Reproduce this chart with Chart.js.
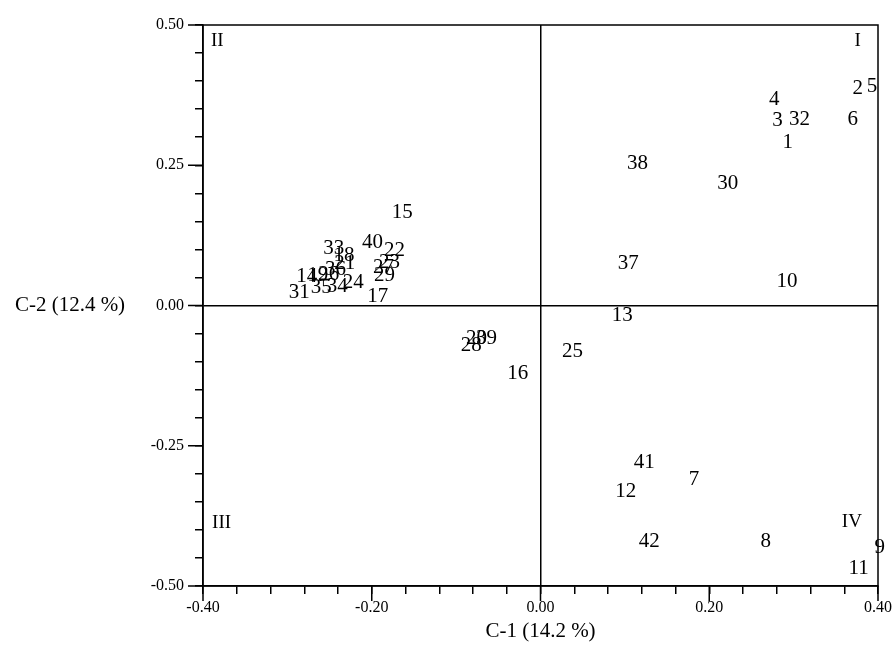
<!DOCTYPE html>
<html>
<head>
<meta charset="utf-8">
<script src="https://cdn.jsdelivr.net/npm/chart.js@4.4.1/dist/chart.umd.min.js"></script>
<style>
  html, body { margin: 0; padding: 0; background: #fff; }
  canvas { display: block; }
</style>
</head>
<body>
<canvas id="myChart" width="896" height="649"></canvas>
<script>
// labels of the accessions
var names = ['1','2','3','4','5','6','7','8','9','10',
             '11','12','13','14','15','16','17','18','19','20',
             '21','22','23','24','25','26','27','28','29','30',
             '31','32','33','34','35','36','37','38','39','40',
             '41','42'];
// C-1 scores
var c1 = [0.293, 0.376, 0.281, 0.277, 0.393, 0.370, 0.182, 0.267, 0.402, 0.292,
          0.377, 0.101, 0.097, -0.277, -0.164, -0.027, -0.193, -0.233, -0.264, -0.076,
          -0.232, -0.173, -0.179, -0.222, 0.038, -0.251, -0.186, -0.082, -0.185, 0.222,
          -0.286, 0.307, -0.245, -0.241, -0.260, -0.243, 0.104, 0.115, -0.064, -0.199,
          0.123, 0.129];
// C-2 scores
var c2 = [0.291, 0.386, 0.329, 0.368, 0.391, 0.332, -0.311, -0.420, -0.432, 0.043,
          -0.468, -0.332, -0.018, 0.052, 0.166, -0.121, 0.016, 0.089, 0.054, -0.059,
          0.075, 0.098, 0.077, 0.041, -0.082, 0.055, 0.068, -0.071, 0.054, 0.218,
          0.023, 0.332, 0.102, 0.034, 0.032, 0.064, 0.075, 0.254, -0.059, 0.113,
          -0.280, -0.420];

// quadrant names
var quadNames = ['I', 'II', 'III', 'IV'];
var quadX = [0.376, -0.383, -0.378, 0.369];
var quadY = [0.471, 0.471, -0.388, -0.386];

var serif = "'Liberation Serif', 'Times New Roman', serif";

var points = c1.map(function (v, i) { return { x: v, y: c2[i] }; });
var quadPoints = quadX.map(function (v, i) { return { x: v, y: quadY[i] }; });

function isMajor(v, step) {
  return Math.abs(Math.round(v * 100)) % step === 0;
}
function fmt(v) {
  var r = Math.round(v * 100) / 100;
  if (r === 0) r = 0;
  return r.toFixed(2);
}

// texts at the points, frame, long ticks, left title
var textPlugin = {
  id: 'textPlugin',
  afterDatasetsDraw: function (chart) {
    var ctx = chart.ctx;
    ctx.save();
    ctx.fillStyle = '#000';
    ctx.textAlign = 'center';
    ctx.textBaseline = 'middle';
    ctx.font = '21px ' + serif;
    chart.getDatasetMeta(0).data.forEach(function (el, i) {
      ctx.fillText(names[i], el.x, el.y);
    });
    ctx.font = '19px ' + serif;
    chart.getDatasetMeta(1).data.forEach(function (el, i) {
      ctx.fillText(quadNames[i], el.x, el.y);
    });
    ctx.restore();
  },
  afterDraw: function (chart) {
    var ctx = chart.ctx;
    var a = chart.chartArea;
    var xs = chart.scales.x, ys = chart.scales.y;
    ctx.save();
    ctx.strokeStyle = '#000';
    ctx.lineWidth = 1.5;
    ctx.strokeRect(a.left, a.top, a.right - a.left, a.bottom - a.top);
    ctx.beginPath();
    [-0.4, -0.2, 0, 0.2, 0.4].forEach(function (v) {
      var px = xs.getPixelForValue(v);
      ctx.moveTo(px, a.bottom);
      ctx.lineTo(px, a.bottom + 15);
    });
    [-0.5, -0.25, 0, 0.25, 0.5].forEach(function (v) {
      var py = ys.getPixelForValue(v);
      ctx.moveTo(a.left, py);
      ctx.lineTo(a.left - 15, py);
    });
    ctx.stroke();
    ctx.fillStyle = '#000';
    ctx.font = '21px ' + serif;
    ctx.textAlign = 'center';
    ctx.textBaseline = 'middle';
    ctx.fillText('C-2 (12.4 %)', 70, ys.getPixelForValue(0));
    ctx.restore();
  }
};

function zeroLine(ctx) {
  return (ctx.tick && Math.abs(ctx.tick.value) < 1e-9) ? '#000' : 'rgba(0,0,0,0)';
}

var ctx = document.getElementById('myChart').getContext('2d');
var myChart = new Chart(ctx, {
  type: 'scatter',
  data: {
    datasets: [
      { data: points, pointRadius: 0, pointHoverRadius: 0 },
      { data: quadPoints, pointRadius: 0, pointHoverRadius: 0 }
    ]
  },
  options: {
    responsive: false,
    animation: false,
    events: [],
    layout: { padding: { top: 25, right: 18, left: 0, bottom: 0 } },
    plugins: { legend: { display: false }, tooltip: { enabled: false } },
    scales: {
      x: {
        type: 'linear',
        min: -0.4,
        max: 0.4,
        border: { color: '#000', width: 1.5 },
        grid: { color: zeroLine, lineWidth: 1.5, tickLength: 8, tickColor: '#000', tickWidth: 1.5 },
        ticks: {
          stepSize: 0.04,
          autoSkip: false,
          maxRotation: 0,
          padding: 4,
          color: '#000',
          font: { family: serif, size: 16 },
          callback: function (v) { return isMajor(v, 20) ? fmt(v) : ''; }
        },
        title: {
          display: true,
          text: 'C-1 (14.2 %)',
          color: '#000',
          font: { family: serif, size: 21 },
          padding: { top: 0, bottom: 5 }
        },
        afterFit: function (scale) { scale.height = 63; }
      },
      y: {
        type: 'linear',
        min: -0.5,
        max: 0.5,
        border: { color: '#000', width: 1.5 },
        grid: { color: zeroLine, lineWidth: 1.5, tickLength: 8, tickColor: '#000', tickWidth: 1.5 },
        ticks: {
          stepSize: 0.05,
          autoSkip: false,
          padding: 11,
          color: '#000',
          font: { family: serif, size: 16 },
          callback: function (v) { return isMajor(v, 25) ? fmt(v) : ''; }
        },
        afterFit: function (scale) { scale.width = 203; }
      }
    }
  },
  plugins: [textPlugin]
});
</script>
</body>
</html>
